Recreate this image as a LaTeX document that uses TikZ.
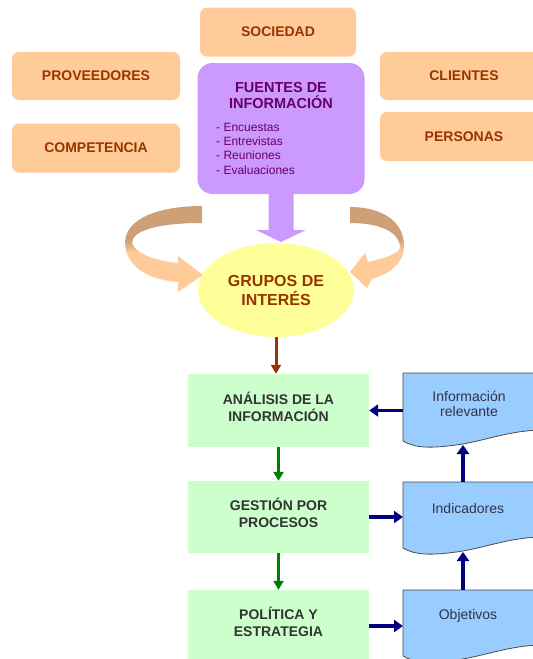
\documentclass[tikz,border=0pt]{standalone}
\usepackage{fontspec}
\setmainfont{Liberation Sans}
\usetikzlibrary{arrows.meta,calc,shapes.geometric}
\definecolor{orangebox}{HTML}{FFCC99}
\definecolor{orangetxt}{HTML}{993300}
\definecolor{purplebox}{HTML}{CC99FF}
\definecolor{purpletxt}{HTML}{660066}
\definecolor{yellowell}{HTML}{FFFF99}
\definecolor{greenbox}{HTML}{CCFFCC}
\definecolor{greentxt}{HTML}{333333}
\definecolor{bluedoc}{HTML}{99CCFF}
\definecolor{bluetxt}{HTML}{333344}
\definecolor{navyarr}{HTML}{000080}
\definecolor{greenarr}{HTML}{008000}
\definecolor{brownarr}{HTML}{993300}
\definecolor{curvebrown}{HTML}{CDA078}
\definecolor{curvepeach}{HTML}{FFCC99}
\pgfdeclareverticalshading{curveshade}{100bp}{color(0bp)=(curvepeach); color(48bp)=(curvepeach); color(55bp)=(curvebrown); color(100bp)=(curvebrown)}
\newcommand{\docshape}[2]{%
  \fill[bluedoc] (403,#1) -- (540,#1) -- (540,{#2-11}) .. controls (510,{#2-10}) and (490,{#2-2}) .. (463,{#2+3}) .. controls (430,{#2+8}) and (415,{#2+7}) .. (403,#2) -- cycle;
  \draw[docline] (540,#1) -- (403,#1) -- (403,#2) .. controls (415,{#2+7}) and (430,{#2+8}) .. (463,{#2+3}) .. controls (490,{#2-2}) and (510,{#2-10}) .. (540,{#2-11});}
\begin{document}
\begin{tikzpicture}[x=1pt,y=-1pt,
  obox/.style={fill=orangebox, rounded corners=7pt, minimum width=168pt, minimum height=48pt, inner sep=0pt, text=orangetxt, font=\fontsize{14}{16}\selectfont\bfseries},
  gbox/.style={fill=greenbox, minimum width=181pt, minimum height=72pt, inner sep=0pt},
  gtext/.style={align=center, text=greentxt, font=\fontsize{14}{17.5}\selectfont\bfseries},
  docframe/.style={minimum width=130pt, inner sep=0pt, anchor=north west},
  doctext/.style={align=center, text=bluetxt, font=\fontsize{14}{15.5}\selectfont},
  docline/.style={draw=black!70, line width=0.8pt},
  navy/.style={draw=navyarr, line width=3.5pt, -{Triangle[length=9pt,width=12pt]}},
  greenar/.style={draw=greenarr, line width=3pt, -{Triangle[length=9pt,width=10pt]}},
  brownar/.style={draw=brownarr, line width=3pt, -{Triangle[length=9pt,width=10pt]}},
  curvearrow/.style={shading=curveshade}
]
\useasboundingbox (0,0) rectangle (533,659);
\clip (0,0) rectangle (533,659);
\fill[white] (0,0) rectangle (533,659);

% orange boxes
\node[obox, minimum width=156pt, minimum height=49pt] (soc) at (278,32) {SOCIEDAD};
\node[obox] (prov) at (96,76) {PROVEEDORES};
\node[obox, minimum height=49pt] (comp) at (96,148) {COMPETENCIA};
\node[obox] (cli) at (464,76) {CLIENTES};
\node[obox, minimum height=49pt] (pers) at (464,136.5) {PERSONAS};

% fuentes
\node[fill=purplebox, rounded corners=15pt, minimum width=167pt, minimum height=131pt, inner sep=0pt] (fu) at (281,128.5) {};
\node[text=purpletxt, font=\fontsize{14.5}{16}\selectfont\bfseries, align=center] (futit) at (281,96) {FUENTES DE\\INFORMACIÓN};
\node[text=purpletxt, font=\fontsize{12}{14.3}\selectfont, align=left, anchor=west, inner sep=0pt] (fulist) at (216,148.5) {- Encuestas\\- Entrevistas\\- Reuniones\\- Evaluaciones};

% ellipse
\node[ellipse, fill=yellowell, minimum width=156pt, minimum height=94pt, inner sep=0pt, text=orangetxt, font=\fontsize{16}{19}\selectfont\bfseries, align=center] (grp) at (276,290) {GRUPOS DE\\INTERÉS};

% purple block arrow
\coordinate (ptip) at (281,242);
\fill[purplebox] ($(fu.south)+(-12.5,-1)$) -- ($(fu.south)+(-12.5,36)$) -- ($(fu.south)+(-24.5,36)$) -- (ptip) -- ($(fu.south)+(24.5,36)$) -- ($(fu.south)+(12.5,36)$) -- ($(fu.south)+(12.5,-1)$) -- cycle;

% curved arrows
\shade[curvearrow] (202,206) .. controls (160,206) and (125,218) .. (125,243) .. controls (126,268) and (150,280) .. (178,282) -- (178,292) -- (203,275) -- (178,256) -- (178,263) .. controls (155,261) and (135,253) .. (132,243) .. controls (132,230) and (160,223) .. (202,223) -- cycle;
\shade[curvearrow] (350,207) .. controls (380,207) and (404,220) .. (404,246) .. controls (404,262) and (392,273) .. (372,279) -- (367,288) -- (350,272) -- (365,253) -- (368,262) .. controls (385,258) and (398,254) .. (400,248) .. controls (400,232) and (380,223) .. (350,223) -- cycle;

% green boxes
\node[gbox, minimum height=73pt] (anal) at (278.5,410.5) {};
\node[gbox] (ges) at (278.5,517) {};
\node[gbox] (pol) at (278.5,626) {};
\node[gtext] (analt) at (278.5,407) {ANÁLISIS DE LA\\INFORMACIÓN};
\node[gtext] (gest) at (278.5,513) {GESTIÓN POR\\PROCESOS};
\node[gtext] (polt) at (278.5,622) {POLÍTICA Y\\ESTRATEGIA};

% documents
\node[docframe, minimum height=68pt] (info) at (403,373) {};
\node[docframe, minimum height=66pt] (ind) at (403,482) {};
\node[docframe, minimum height=66pt] (obj) at (403,590) {};
\docshape{373}{441}
\docshape{482}{548}
\docshape{590}{656}
\node[doctext] (infot) at (469,404) {Información\\relevante};
\node[doctext] (indt) at (468,508) {Indicadores};
\node[doctext] (objt) at (468,615.5) {Objetivos};

% connectors
\draw[brownar] (grp.south) -- (grp.south |- anal.north);
\draw[greenar] (anal.south) -- (ges.north);
\draw[greenar] (ges.south) -- (pol.north);
\draw[navy] (info.west |- anal.east) -- (anal.east);
\draw[navy] (ges.east) -- (ges.east -| ind.west);
\draw[navy] (pol.east) -- (pol.east -| obj.west);
\coordinate (infob) at (463,445);
\coordinate (indb) at (463,552);
\draw[navy] (ind.north -| infob) -- (infob);
\draw[navy] (obj.north -| indb) -- (indb);
\end{tikzpicture}
\end{document}
